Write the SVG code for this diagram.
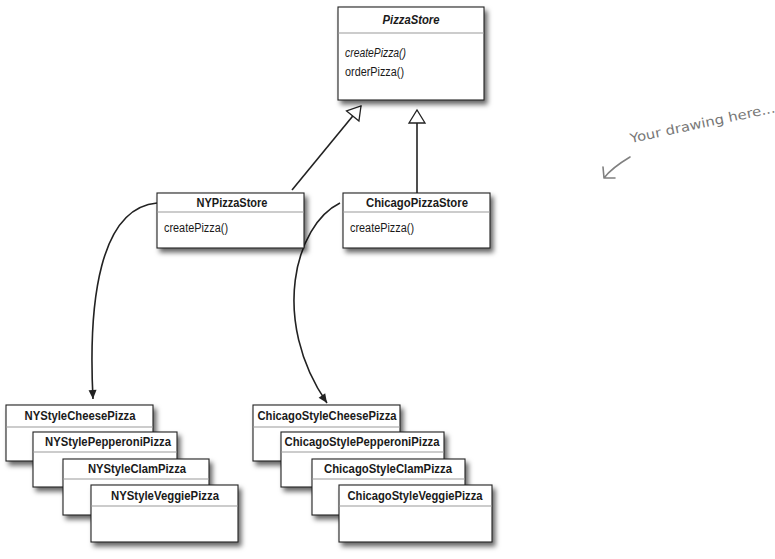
<svg xmlns="http://www.w3.org/2000/svg" width="775" height="559" viewBox="0 0 775 559">
<style>
.box{fill:#fff;stroke:#222;stroke-width:1.1}
.div{stroke:#999;stroke-width:1.2}
.t{font-family:"Liberation Sans",Arial,sans-serif;font-size:12.5px;font-weight:bold;fill:#1a1a1a;text-anchor:middle}
.m{font-family:"Liberation Sans",Arial,sans-serif;font-size:12px;fill:#1a1a1a}
.c{fill:none;stroke:#222;stroke-width:1.6}
.hand{font-family:"DejaVu Sans",sans-serif;font-size:13px;fill:#777}
</style>
<defs>
<filter id="sh" x="-10%" y="-10%" width="130%" height="140%">
<feDropShadow dx="3" dy="4" stdDeviation="2.5" flood-color="#000" flood-opacity="0.6"/>
</filter>
<marker id="tri" viewBox="-15 -10 17 20" refX="0" refY="0" markerWidth="17" markerHeight="20" markerUnits="userSpaceOnUse" orient="auto">
<path d="M-13,-8 L0,0 L-13,8 Z" fill="#fff" stroke="#222" stroke-width="1.3"/>
</marker>
<marker id="arr" viewBox="-10 -5 11 10" refX="0" refY="0" markerWidth="11" markerHeight="10" markerUnits="userSpaceOnUse" orient="auto">
<path d="M-9,-4 L0,0 L-9,4 Z" fill="#222"/>
</marker>
</defs>

<g id="connectors">
<path class="c" d="M292,190 L361,106" marker-end="url(#tri)"/>
<path class="c" d="M417,193 L417,110" marker-end="url(#tri)"/>
<path class="c" d="M157,203 C100,208 88,300 93,399" marker-end="url(#arr)"/>
<path class="c" d="M340,203 C295,225 270,320 327,403" marker-end="url(#arr)"/>
</g>

<g id="PizzaStore">
<rect class="box" x="338" y="7" width="146" height="93" filter="url(#sh)"/>
<line class="div" x1="338" y1="33" x2="484" y2="33"/>
<text class="t" x="411" y="24" font-style="italic" textLength="57" lengthAdjust="spacingAndGlyphs">PizzaStore</text>
<text class="m" x="345" y="57" font-style="italic" textLength="61" lengthAdjust="spacingAndGlyphs">createPizza()</text>
<text class="m" x="345" y="76" textLength="59" lengthAdjust="spacingAndGlyphs">orderPizza()</text>
</g>

<g id="NYPizzaStore">
<rect class="box" x="157" y="193" width="147" height="55" filter="url(#sh)"/>
<line class="div" x1="157" y1="212" x2="304" y2="212"/>
<text class="t" x="232" y="207" textLength="71" lengthAdjust="spacingAndGlyphs">NYPizzaStore</text>
<text class="m" x="164" y="232" textLength="64" lengthAdjust="spacingAndGlyphs">createPizza()</text>
</g>

<g id="ChicagoPizzaStore">
<rect class="box" x="343" y="193" width="147" height="55" filter="url(#sh)"/>
<line class="div" x1="343" y1="212" x2="490" y2="212"/>
<text class="t" x="417" y="207" textLength="102" lengthAdjust="spacingAndGlyphs">ChicagoPizzaStore</text>
<text class="m" x="350" y="232" textLength="64" lengthAdjust="spacingAndGlyphs">createPizza()</text>
</g>

<g id="NYStyleCheesePizza">
<rect class="box" x="6" y="405" width="147" height="56" filter="url(#sh)"/>
<line class="div" x1="6" y1="427" x2="153" y2="427"/>
<text class="t" x="80" y="420" textLength="111" lengthAdjust="spacingAndGlyphs">NYStyleCheesePizza</text>
</g>
<g id="NYStylePepperoniPizza">
<rect class="box" x="33" y="432" width="144" height="55" filter="url(#sh)"/>
<line class="div" x1="33" y1="452" x2="177" y2="452"/>
<text class="t" x="108" y="446" textLength="126" lengthAdjust="spacingAndGlyphs">NYStylePepperoniPizza</text>
</g>
<g id="NYStyleClamPizza">
<rect class="box" x="63" y="459" width="146" height="56" filter="url(#sh)"/>
<line class="div" x1="63" y1="479" x2="209" y2="479"/>
<text class="t" x="137" y="473" textLength="98" lengthAdjust="spacingAndGlyphs">NYStyleClamPizza</text>
</g>
<g id="NYStyleVeggiePizza">
<rect class="box" x="91" y="485" width="147" height="57" filter="url(#sh)"/>
<line class="div" x1="91" y1="506" x2="238" y2="506"/>
<text class="t" x="165" y="500" textLength="108" lengthAdjust="spacingAndGlyphs">NYStyleVeggiePizza</text>
</g>

<g id="ChicagoStyleCheesePizza">
<rect class="box" x="253" y="405" width="147" height="56" filter="url(#sh)"/>
<line class="div" x1="253" y1="427" x2="400" y2="427"/>
<text class="t" x="327" y="420" textLength="139" lengthAdjust="spacingAndGlyphs">ChicagoStyleCheesePizza</text>
</g>
<g id="ChicagoStylePepperoniPizza">
<rect class="box" x="281" y="432" width="163" height="55" filter="url(#sh)"/>
<line class="div" x1="281" y1="452" x2="444" y2="452"/>
<text class="t" x="362" y="446" textLength="155" lengthAdjust="spacingAndGlyphs">ChicagoStylePepperoniPizza</text>
</g>
<g id="ChicagoStyleClamPizza">
<rect class="box" x="312" y="459" width="153" height="56" filter="url(#sh)"/>
<line class="div" x1="312" y1="479" x2="465" y2="479"/>
<text class="t" x="388" y="473" textLength="128" lengthAdjust="spacingAndGlyphs">ChicagoStyleClamPizza</text>
</g>
<g id="ChicagoStyleVeggiePizza">
<rect class="box" x="339" y="485" width="153" height="57" filter="url(#sh)"/>
<line class="div" x1="339" y1="506" x2="492" y2="506"/>
<text class="t" x="415" y="500" textLength="135" lengthAdjust="spacingAndGlyphs">ChicagoStyleVeggiePizza</text>
</g>

<g id="note">
<text class="hand" x="631" y="143" transform="rotate(-12 631 143)" textLength="148" lengthAdjust="spacingAndGlyphs">Your drawing here...</text>
<path d="M630,157 C620,163 610,170 604,178 M603,167 L604,178 L615,178" fill="none" stroke="#808080" stroke-width="1.6" stroke-linecap="round" stroke-linejoin="round"/>
</g>
</svg>
